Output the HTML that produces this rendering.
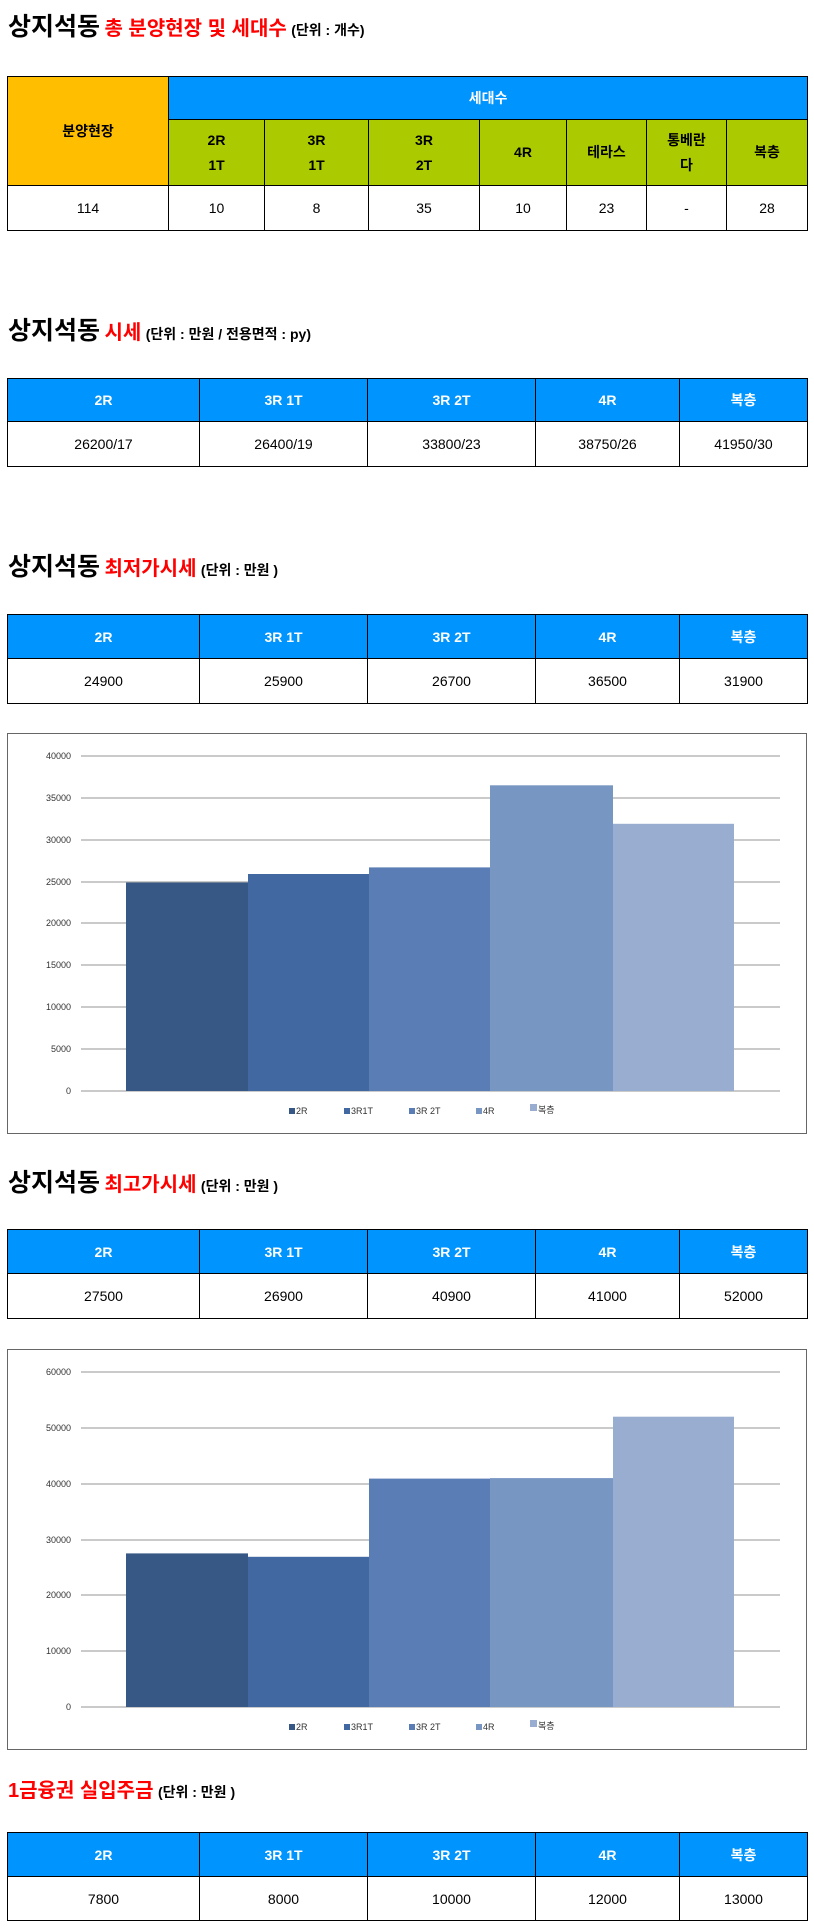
<!DOCTYPE html>
<html><head><meta charset="utf-8"><style>
body{margin:0;width:814px;height:1930px;background:#fff;position:relative;font-family:"Liberation Sans","Noto Sans CJK KR",sans-serif;overflow:hidden}
.t{position:absolute;left:8px;white-space:nowrap;font-weight:bold;color:#000}
.t .b{font-size:25px}.t .r{color:#f00;font-size:20px}.t .s{font-size:14px}
table{position:absolute;left:7px;width:800px;border-collapse:collapse;table-layout:fixed}
td{border:1px solid #000;text-align:center;font-size:14px;padding:0}
.h{background:#0094ff;color:#fff;font-weight:bold}
.g{background:#acca00;font-weight:bold;line-height:25px}
.o{background:#ffbf00;font-weight:bold}
.c{position:absolute;left:7px;width:798px;height:399px;border:1px solid #666}
</style></head><body>
<div class="t" style="top:7px"><span class="b">상지석동</span> <span class="r">총 분양현장 및 세대수</span> <span class="s">(단위 : 개수)</span></div>
<table style="top:76px">
<colgroup><col style="width:161px"><col style="width:96px"><col style="width:104px"><col style="width:111px"><col style="width:87px"><col style="width:80px"><col style="width:80px"><col style="width:81px"></colgroup>
<tr style="height:43px"><td class="o" rowspan="2">분양현장</td><td class="h" colspan="7">세대수</td></tr>
<tr style="height:66px"><td class="g">2R<br>1T</td><td class="g">3R<br>1T</td><td class="g">3R<br>2T</td><td class="g">4R</td><td class="g">테라스</td><td class="g">통베란<br>다</td><td class="g">복층</td></tr>
<tr style="height:45px"><td>114</td><td>10</td><td>8</td><td>35</td><td>10</td><td>23</td><td>-</td><td>28</td></tr>
</table>

<div class="t" style="top:311px"><span class="b">상지석동</span> <span class="r">시세</span> <span class="s">(단위 : 만원 / 전용면적 : py)</span></div>
<table style="top:378px">
<colgroup><col style="width:192px"><col style="width:168px"><col style="width:168px"><col style="width:144px"><col style="width:128px"></colgroup>
<tr style="height:43px" class="h"><td class="h">2R</td><td class="h">3R 1T</td><td class="h">3R 2T</td><td class="h">4R</td><td class="h">복층</td></tr>
<tr style="height:45px"><td>26200/17</td><td>26400/19</td><td>33800/23</td><td>38750/26</td><td>41950/30</td></tr>
</table>

<div class="t" style="top:547px"><span class="b">상지석동</span> <span class="r">최저가시세</span> <span class="s">(단위 : 만원 )</span></div>
<table style="top:614px">
<colgroup><col style="width:192px"><col style="width:168px"><col style="width:168px"><col style="width:144px"><col style="width:128px"></colgroup>
<tr style="height:44px"><td class="h">2R</td><td class="h">3R 1T</td><td class="h">3R 2T</td><td class="h">4R</td><td class="h">복층</td></tr>
<tr style="height:45px"><td>24900</td><td>25900</td><td>26700</td><td>36500</td><td>31900</td></tr>
</table>

<svg class="c" style="top:733px" width="798" height="399" font-family="Liberation Sans,Noto Sans CJK KR,sans-serif" font-size="9" fill="#333">
<g stroke="#aaa" stroke-width="1.2">
<line x1="73" x2="772" y1="22" y2="22"/><line x1="73" x2="772" y1="64" y2="64"/><line x1="73" x2="772" y1="106" y2="106"/><line x1="73" x2="772" y1="148" y2="148"/><line x1="73" x2="772" y1="189" y2="189"/><line x1="73" x2="772" y1="231" y2="231"/><line x1="73" x2="772" y1="273" y2="273"/><line x1="73" x2="772" y1="315" y2="315"/><line x1="73" x2="772" y1="357" y2="357"/></g>
<g text-anchor="end"><text x="63" y="25">40000</text><text x="63" y="67">35000</text><text x="63" y="109">30000</text><text x="63" y="151">25000</text><text x="63" y="192">20000</text><text x="63" y="234">15000</text><text x="63" y="276">10000</text><text x="63" y="318">5000</text><text x="63" y="360">0</text></g>
<rect x="118" y="148.5" width="122" height="208.5" fill="#375885"/>
<rect x="240" y="140" width="121" height="217" fill="#4268a2"/>
<rect x="361" y="133.4" width="121" height="223.6" fill="#5b7db5"/>
<rect x="482" y="51.3" width="123" height="305.7" fill="#7896c2"/>
<rect x="605" y="89.8" width="121" height="267.2" fill="#98adcf"/>
<rect x="281" y="374" width="6" height="6" fill="#375885"/><text x="288" y="380">2R</text>
<rect x="336" y="374" width="6" height="6" fill="#4268a2"/><text x="343" y="380">3R1T</text>
<rect x="401" y="374" width="6" height="6" fill="#5b7db5"/><text x="408" y="380">3R 2T</text>
<rect x="468" y="374" width="6" height="6" fill="#7896c2"/><text x="475" y="380">4R</text>
<rect x="522" y="370" width="7" height="7" fill="#98adcf"/><text x="530" y="379">복층</text>
</svg>

<div class="t" style="top:1163px"><span class="b">상지석동</span> <span class="r">최고가시세</span> <span class="s">(단위 : 만원 )</span></div>
<table style="top:1229px">
<colgroup><col style="width:192px"><col style="width:168px"><col style="width:168px"><col style="width:144px"><col style="width:128px"></colgroup>
<tr style="height:44px"><td class="h">2R</td><td class="h">3R 1T</td><td class="h">3R 2T</td><td class="h">4R</td><td class="h">복층</td></tr>
<tr style="height:45px"><td>27500</td><td>26900</td><td>40900</td><td>41000</td><td>52000</td></tr>
</table>

<svg class="c" style="top:1349px" width="798" height="399" font-family="Liberation Sans,Noto Sans CJK KR,sans-serif" font-size="9" fill="#333">
<g stroke="#aaa" stroke-width="1.2">
<line x1="73" x2="772" y1="22" y2="22"/><line x1="73" x2="772" y1="78" y2="78"/><line x1="73" x2="772" y1="134" y2="134"/><line x1="73" x2="772" y1="190" y2="190"/><line x1="73" x2="772" y1="245" y2="245"/><line x1="73" x2="772" y1="301" y2="301"/><line x1="73" x2="772" y1="357" y2="357"/></g>
<g text-anchor="end"><text x="63" y="25">60000</text><text x="63" y="81">50000</text><text x="63" y="137">40000</text><text x="63" y="193">30000</text><text x="63" y="248">20000</text><text x="63" y="304">10000</text><text x="63" y="360">0</text></g>
<rect x="118" y="203.4" width="122" height="153.6" fill="#375885"/>
<rect x="240" y="206.8" width="121" height="150.2" fill="#4268a2"/>
<rect x="361" y="128.6" width="121" height="228.4" fill="#5b7db5"/>
<rect x="482" y="128.1" width="123" height="228.9" fill="#7896c2"/>
<rect x="605" y="66.7" width="121" height="290.3" fill="#98adcf"/>
<rect x="281" y="374" width="6" height="6" fill="#375885"/><text x="288" y="380">2R</text>
<rect x="336" y="374" width="6" height="6" fill="#4268a2"/><text x="343" y="380">3R1T</text>
<rect x="401" y="374" width="6" height="6" fill="#5b7db5"/><text x="408" y="380">3R 2T</text>
<rect x="468" y="374" width="6" height="6" fill="#7896c2"/><text x="475" y="380">4R</text>
<rect x="522" y="370" width="7" height="7" fill="#98adcf"/><text x="530" y="379">복층</text>
</svg>

<div class="t" style="top:1774px"><span class="r">1금융권 실입주금</span> <span class="s">(단위 : 만원 )</span></div>
<table style="top:1832px">
<colgroup><col style="width:192px"><col style="width:168px"><col style="width:168px"><col style="width:144px"><col style="width:128px"></colgroup>
<tr style="height:44px"><td class="h">2R</td><td class="h">3R 1T</td><td class="h">3R 2T</td><td class="h">4R</td><td class="h">복층</td></tr>
<tr style="height:44px"><td>7800</td><td>8000</td><td>10000</td><td>12000</td><td>13000</td></tr>
</table>
</body></html>
